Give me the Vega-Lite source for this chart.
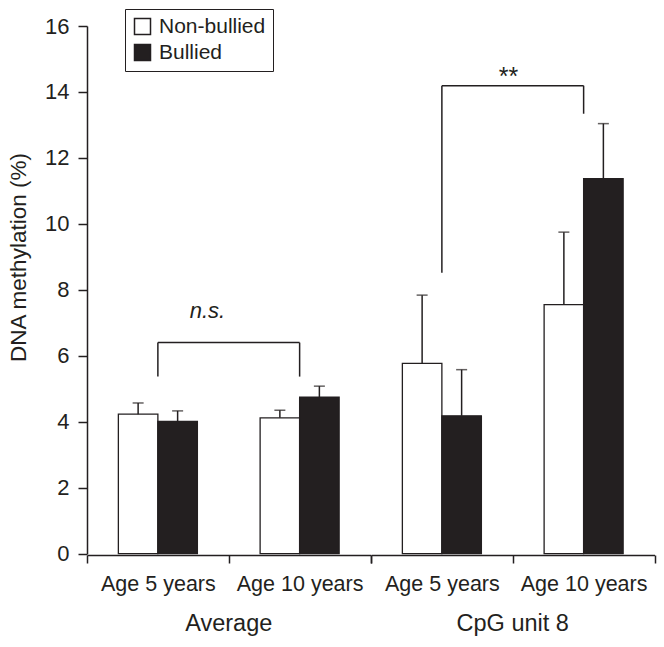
{
  "$schema": "https://vega.github.io/schema/vega-lite/v6.json",
  "padding": {"left": 7, "top": 8, "right": 5, "bottom": 5},
  "data": {"values": [
    {"kind":"bar","measure":"Average","age":"Age 5 years","group":"Non-bullied","value":4.23,"upper":4.57},
    {"kind":"bar","measure":"Average","age":"Age 5 years","group":"Bullied","value":4.01,"upper":4.33},
    {"kind":"bar","measure":"Average","age":"Age 10 years","group":"Non-bullied","value":4.12,"upper":4.35},
    {"kind":"bar","measure":"Average","age":"Age 10 years","group":"Bullied","value":4.75,"upper":5.08},
    {"kind":"bar","measure":"CpG unit 8","age":"Age 5 years","group":"Non-bullied","value":5.77,"upper":7.84},
    {"kind":"bar","measure":"CpG unit 8","age":"Age 5 years","group":"Bullied","value":4.18,"upper":5.58},
    {"kind":"bar","measure":"CpG unit 8","age":"Age 10 years","group":"Non-bullied","value":7.55,"upper":9.75},
    {"kind":"bar","measure":"CpG unit 8","age":"Age 10 years","group":"Bullied","value":11.37,"upper":13.04},
    {"kind":"leg","measure":"Average","age":"Age 5 years","value":5.37,"upper":6.40},
    {"kind":"leg","measure":"Average","age":"Age 10 years","value":5.37,"upper":6.40},
    {"kind":"leg","measure":"CpG unit 8","age":"Age 5 years","value":8.52,"upper":14.19},
    {"kind":"leg","measure":"CpG unit 8","age":"Age 10 years","value":13.34,"upper":14.19},
    {"kind":"bracket","measure":"Average","age":"Age 5 years","age2":"Age 10 years","upper":6.40},
    {"kind":"bracket","measure":"CpG unit 8","age":"Age 5 years","age2":"Age 10 years","upper":14.19},
    {"kind":"label","measure":"Average","age":"Age 5 years","upper":7.16,"label":"n.s."},
    {"kind":"label","measure":"CpG unit 8","age":"Age 5 years","upper":14.22,"label":"**"}
  ]},
  "facet": {
    "column": {
      "field": "measure", "type": "nominal", "sort": ["Average", "CpG unit 8"],
      "header": {"title": null, "labelOrient": "bottom", "labelFontSize": 23.5, "labelFont": "Liberation Sans", "labelColor": "#231f20", "labelPadding": 17}
    }
  },
  "spacing": 0,
  "spec": {
    "width": 283.5,
    "height": 527.7,
    "layer": [
      {
        "transform": [{"filter": "datum.kind === 'bar'"}],
        "mark": {"type": "bar", "stroke": "#231f20", "strokeWidth": 1.3},
        "encoding": {
          "x": {"field": "age", "type": "nominal", "sort": ["Age 5 years", "Age 10 years"],
                "scale": {"paddingInner": 0, "paddingOuter": 0},
                "axis": {"title": null, "labelAngle": 0, "tickBand": "extent", "tickSize": 8, "labelPadding": 10, "labelFontSize": 21.5}},
          "xOffset": {"field": "group", "type": "nominal", "sort": ["Non-bullied", "Bullied"],
                      "scale": {"paddingInner": 0, "paddingOuter": 0.794}},
          "y": {"field": "value", "type": "quantitative",
                "scale": {"domain": [0, 16], "nice": false},
                "axis": {"title": "DNA methylation (%)", "values": [0, 2, 4, 6, 8, 10, 12, 14, 16], "tickSize": 9, "labelPadding": 9, "labelFontSize": 22, "titlePadding": 14, "titleY": 231}},
          "fill": {"field": "group", "type": "nominal", "sort": ["Non-bullied", "Bullied"],
                   "scale": {"domain": ["Non-bullied", "Bullied"], "range": ["#ffffff", "#231f20"]},
                   "legend": {"title": null, "orient": "none", "legendX": 38, "legendY": -17}}
        }
      },
      {
        "transform": [{"filter": "datum.kind === 'bar'"}],
        "mark": {"type": "rule", "color": "#231f20", "strokeWidth": 1.5},
        "encoding": {
          "x": {"field": "age", "type": "nominal", "sort": ["Age 5 years", "Age 10 years"]},
          "xOffset": {"field": "group", "type": "nominal", "sort": ["Non-bullied", "Bullied"]},
          "y": {"field": "value", "type": "quantitative"},
          "y2": {"field": "upper"}
        }
      },
      {
        "transform": [{"filter": "datum.kind === 'bar'"}],
        "mark": {"type": "tick", "orient": "horizontal", "color": "#231f20", "size": 11, "thickness": 1.5},
        "encoding": {
          "x": {"field": "age", "type": "nominal", "sort": ["Age 5 years", "Age 10 years"]},
          "xOffset": {"field": "group", "type": "nominal", "sort": ["Non-bullied", "Bullied"]},
          "y": {"field": "upper", "type": "quantitative"}
        }
      },
      {
        "transform": [{"filter": "datum.kind === 'leg'"}],
        "mark": {"type": "rule", "color": "#231f20", "strokeWidth": 1.5},
        "encoding": {
          "x": {"field": "age", "type": "nominal", "sort": ["Age 5 years", "Age 10 years"]},
          "y": {"field": "value", "type": "quantitative"},
          "y2": {"field": "upper"}
        }
      },
      {
        "transform": [{"filter": "datum.kind === 'bracket'"}],
        "mark": {"type": "rule", "color": "#231f20", "strokeWidth": 1.5},
        "encoding": {
          "x": {"field": "age", "type": "nominal", "sort": ["Age 5 years", "Age 10 years"]},
          "x2": {"field": "age2"},
          "y": {"field": "upper", "type": "quantitative"}
        }
      },
      {
        "transform": [{"filter": "datum.kind === 'label' && datum.measure === 'Average'"}],
        "mark": {"type": "text", "font": "Liberation Sans", "fontStyle": "italic", "fontSize": 22, "color": "#231f20", "baseline": "alphabetic"},
        "encoding": {
          "x": {"field": "age", "type": "nominal", "sort": ["Age 5 years", "Age 10 years"], "bandPosition": 0.85},
          "y": {"field": "upper", "type": "quantitative"},
          "text": {"field": "label"}
        }
      },
      {
        "transform": [{"filter": "datum.kind === 'label' && datum.measure === 'CpG unit 8'"}],
        "mark": {"type": "text", "font": "Liberation Sans", "fontSize": 25, "color": "#231f20", "baseline": "alphabetic"},
        "encoding": {
          "x": {"field": "age", "type": "nominal", "sort": ["Age 5 years", "Age 10 years"], "bandPosition": 0.97},
          "y": {"field": "upper", "type": "quantitative"},
          "text": {"field": "label"}
        }
      }
    ]
  },
  "config": {
    "font": "Liberation Sans",
    "view": {"stroke": null},
    "axis": {"grid": false, "domainColor": "#231f20", "tickColor": "#231f20", "labelColor": "#231f20", "titleColor": "#231f20",
             "domainWidth": 1.5, "tickWidth": 1.5, "labelFontSize": 21, "titleFontSize": 22.5, "titleFontWeight": "normal", "labelFont": "Liberation Sans", "titleFont": "Liberation Sans"},
    "legend": {"symbolType": "square", "symbolSize": 256, "symbolStrokeColor": "#231f20", "symbolStrokeWidth": 1.5,
               "labelFontSize": 21, "labelFont": "Liberation Sans", "labelColor": "#231f20", "strokeColor": "#231f20", "fillColor": "#ffffff",
               "padding": 7, "rowPadding": 3, "labelOffset": 6}
  }
}
